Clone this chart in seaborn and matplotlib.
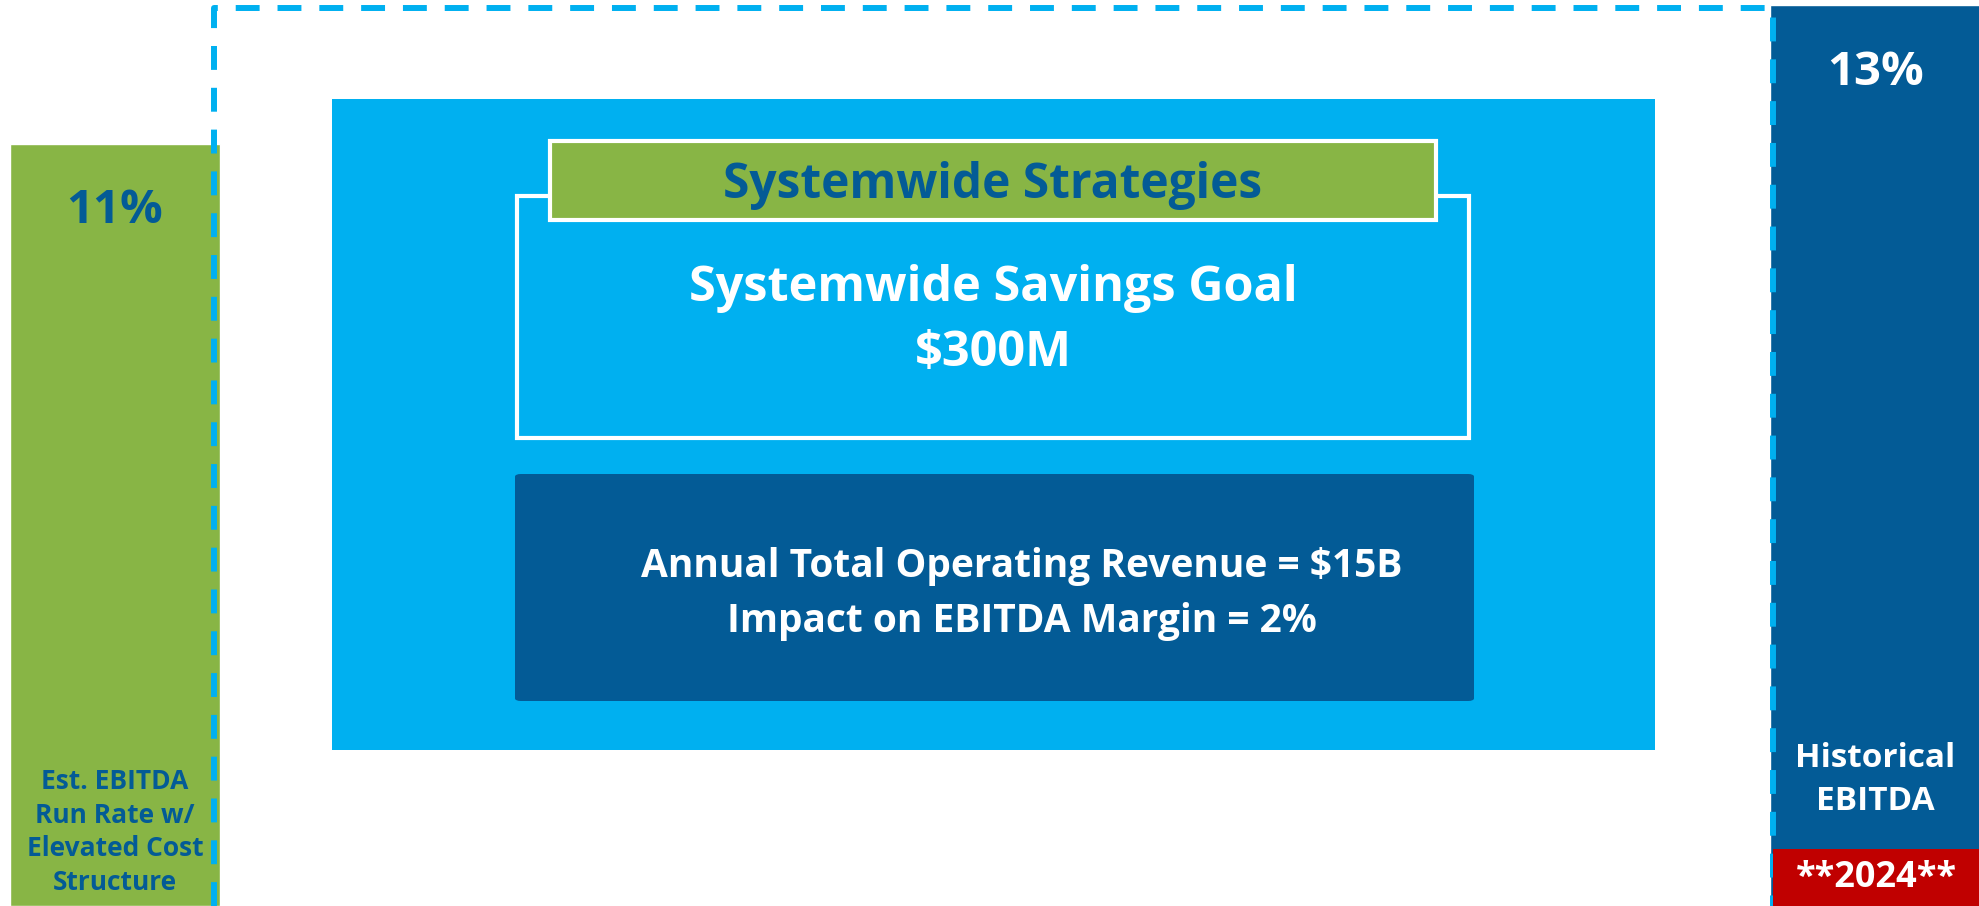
import matplotlib
matplotlib.use('Agg')
import matplotlib.pyplot as plt
import matplotlib.patches as mpatches
import seaborn as sns
import pandas as pd

# chart data
bar_labels = ['Est. EBITDA\nRun Rate w/\nElevated Cost\nStructure', 'Historical\nEBITDA']
ebitda_pct = [11, 13]
year_tag = '**2024**'
header_text = 'Systemwide Strategies'
goal_text = 'Systemwide Savings Goal\n$300M'
impact_text = 'Annual Total Operating Revenue = $15B\nImpact on EBITDA Margin = 2%'

GREEN = '#88b545'
LIGHT_BLUE = '#00b0f0'
DARK_BLUE = '#035b96'
RED = '#c00000'

W, H = 1979, 906

sns.set_theme(style='white')
plt.rcParams['font.family'] = ['Open Sans', 'DejaVu Sans']

df = pd.DataFrame({'label': bar_labels, 'pct': ebitda_pct})

fig = plt.figure(figsize=(W / 100, H / 100), dpi=100)
ax = fig.add_axes([0, 0, 1, 1])
sns.barplot(data=df, x='label', y='pct', hue='label', palette=[GREEN, DARK_BLUE],
            width=0.119, saturation=1, legend=False, ax=ax)
ax.set_xlim(-0.0653, 1.059)
ax.set_ylim(0, 13.072)
ax.axis('off')


def px(x, y):
    # pixel position (top-left origin) -> axes fraction
    return x / W, 1 - y / H


def px_rect(x0, y0, x1, y1, **kw):
    fx, fy = px(x0, y1)
    return mpatches.Rectangle((fx, fy), (x1 - x0) / W, (y1 - y0) / H,
                              transform=ax.transAxes, **kw)


# value labels inside bars
bars = sorted(ax.patches, key=lambda p: p.get_x())
pct_colors = [DARK_BLUE, 'white']
for bar, val, col in zip(bars, ebitda_pct, pct_colors):
    ax.text(bar.get_x() + bar.get_width() / 2, val - 0.97, f'{val}%',
            ha='center', va='center', fontsize=34, fontweight='bold', color=col)

# dashed bracket from left bar to right bar
xl = bars[0].get_x() + bars[0].get_width() - 0.0034
xr = bars[1].get_x() + 0.0012
ytop = max(ebitda_pct) - 0.05
ax.plot([xl, xl, xr, xr], [0, ytop, ytop, 0], color=LIGHT_BLUE, lw=4.3,
        ls=(0, (4, 3)), dash_capstyle='butt', zorder=5)

# category labels at bottom of bars
cx0 = bars[0].get_x() + bars[0].get_width() / 2
cx1 = bars[1].get_x() + bars[1].get_width() / 2
ax.text(cx0, ax.transData.inverted().transform(ax.transAxes.transform(px(0, 832)))[1],
        bar_labels[0], ha='center', va='center', fontsize=19, fontweight='bold',
        color=DARK_BLUE, linespacing=1.32)
ax.text(cx1, ax.transData.inverted().transform(ax.transAxes.transform(px(0, 780)))[1],
        bar_labels[1], ha='center', va='center', fontsize=24, fontweight='bold',
        color='white', linespacing=1.38)

# red year tag
ax.add_patch(px_rect(1773, 849, 1985, 910, facecolor=RED, edgecolor='none', zorder=6))
ax.text(*px(1876, 878), year_tag, transform=ax.transAxes, ha='center', va='center',
        fontsize=26, fontweight='bold', color='white', zorder=7)

# central strategy panel
ax.add_patch(px_rect(332, 99, 1655, 750, facecolor=LIGHT_BLUE, edgecolor='none', zorder=3))
ax.add_patch(px_rect(517, 196, 1469, 438, facecolor='none', edgecolor='white', lw=3, zorder=4))
ax.add_patch(px_rect(550, 141, 1436, 220, facecolor=GREEN, edgecolor='white', lw=3, zorder=5))
ax.text(*px(993, 185), header_text, transform=ax.transAxes, ha='center', va='center',
        fontsize=34.5, fontweight='bold', color=DARK_BLUE, zorder=6)
ax.text(*px(993, 321), goal_text, transform=ax.transAxes, ha='center', va='center',
        fontsize=35, fontweight='bold', color='white', linespacing=1.42, zorder=6)

fx, fy = px(515, 701)
ax.add_patch(mpatches.FancyBboxPatch((fx, fy), (1474 - 515) / W, (701 - 474) / H,
                                     boxstyle='round,pad=0,rounding_size=0.003',
                                     transform=ax.transAxes, facecolor=DARK_BLUE,
                                     edgecolor='none', zorder=4))
ax.text(*px(1022, 594), impact_text, transform=ax.transAxes, ha='center', va='center',
        fontsize=28, fontweight='bold', color='white', linespacing=1.55, zorder=6)

fig.savefig('out.png', dpi=100)
